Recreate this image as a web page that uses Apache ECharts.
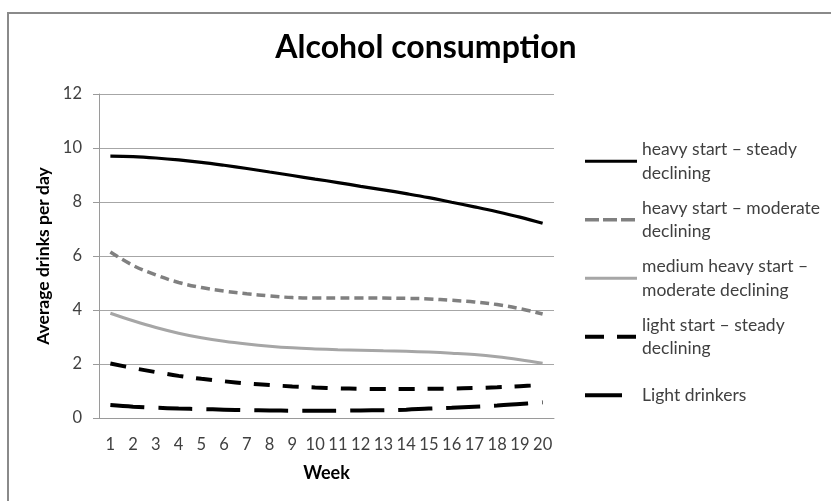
<!DOCTYPE html>
<html>
<head>
<meta charset="utf-8">
<script src="https://cdn.jsdelivr.net/npm/echarts@6/dist/echarts.min.js"></script>
<style>
html,body{margin:0;padding:0;background:#fff;}
#chart{width:831px;height:501px;}
</style>
</head>
<body>
<div id="chart"></div>
<script>
var weeks = ['1','2','3','4','5','6','7','8','9','10','11','12','13','14','15','16','17','18','19','20'];
var seriesNames = [
  'heavy start – steady declining',
  'heavy start – moderate declining',
  'medium heavy start – moderate declining',
  'light start – steady declining',
  'Light drinkers'
];
var legendLabels = [
  'heavy start – steady\ndeclining',
  'heavy start – moderate\ndeclining',
  'medium heavy start –\nmoderate declining',
  'light start – steady\ndeclining',
  'Light drinkers'
];
var heavySteady = [9.70,9.68,9.63,9.56,9.47,9.36,9.24,9.11,8.98,8.85,8.72,8.58,8.45,8.31,8.16,7.99,7.82,7.64,7.44,7.21];
var heavyModerate = [6.15,5.65,5.30,5.02,4.83,4.70,4.60,4.52,4.46,4.44,4.44,4.44,4.44,4.43,4.41,4.36,4.30,4.20,4.05,3.85];
var mediumModerate = [3.88,3.60,3.35,3.14,2.97,2.84,2.74,2.66,2.60,2.56,2.53,2.51,2.49,2.47,2.44,2.40,2.35,2.27,2.16,2.03];
var lightSteady = [2.02,1.85,1.70,1.56,1.45,1.36,1.28,1.22,1.17,1.13,1.10,1.08,1.07,1.07,1.08,1.09,1.11,1.14,1.18,1.22];
var lightDrinkers = [0.48,0.42,0.38,0.35,0.33,0.31,0.29,0.28,0.27,0.27,0.27,0.28,0.29,0.31,0.35,0.38,0.42,0.46,0.52,0.58];
var yTicks = [0,2,4,6,8,10,12];

var font = 'Lato, "Open Sans", sans-serif';
var LH = 23.5;
var dataArr = [heavySteady, heavyModerate, mediumModerate, lightSteady, lightDrinkers];
var styles = [
  {color:'#000000', width:3.2, type:'solid', legendType:'solid'},
  {color:'#808080', width:3.5, type:[9,5], legendType:[14,4]},
  {color:'#a6a6a6', width:3, type:'solid', legendType:'solid'},
  {color:'#000000', width:4, type:[16,13], legendType:[19,13]},
  {color:'#000000', width:4, type:[34,14], legendType:[37,30]}
];

var chart = echarts.init(document.getElementById('chart'), null, {renderer:'canvas'});
var option = {
  animation:false,
  backgroundColor:'#ffffff',
  title:{
    text:'Alcohol consumption',
    left:421, top:27, textAlign:'center',
    textStyle:{fontFamily:font, fontSize:32, fontWeight:'bold', color:'#000'}
  },
  grid:{left:99, right:277, top:94, bottom:83, containLabel:false},
  legend:{
    orient:'vertical', left:583, top:126, padding:0,
    itemWidth:52, itemHeight:14, itemGap:-12,
    itemStyle:{opacity:0},
    data: seriesNames.map(function(n,i){
      var single = legendLabels[i].indexOf('\n') < 0;
      return {
        name:n,
        itemStyle:{opacity:0},
        lineStyle:{color:styles[i].color, width:styles[i].width, type:styles[i].legendType},
        textStyle:{padding: single ? [LH,0,LH,0] : [LH,0,0,0]}
      };
    }),
    formatter:function(name){ return legendLabels[seriesNames.indexOf(name)]; },
    textStyle:{fontFamily:font, fontSize:17.5, color:'#404040', lineHeight:LH}
  },
  xAxis:{
    type:'category', data:weeks, boundaryGap:true,
    name:'Week', nameLocation:'middle', nameGap:46,
    nameTextStyle:{fontFamily:font, fontSize:18, fontWeight:'bold', color:'#000'},
    axisLine:{lineStyle:{color:'#9a9a9a', width:1}},
    axisTick:{show:false},
    axisLabel:{fontFamily:font, fontSize:16.5, color:'#404040', margin:18, interval:0}
  },
  yAxis:{
    type:'value', min:yTicks[0], max:yTicks[yTicks.length-1], interval:2,
    name:'Average drinks per day', nameLocation:'middle', nameGap:42,
    nameTextStyle:{fontFamily:font, fontSize:17.5, fontWeight:'bold', color:'#000'},
    axisLine:{show:true, lineStyle:{color:'#9a9a9a', width:1}},
    axisTick:{show:true, length:6, lineStyle:{color:'#9a9a9a'}},
    splitLine:{lineStyle:{color:'#a6a6a6', width:1}},
    axisLabel:{fontFamily:font, fontSize:16.5, color:'#404040', margin:17}
  },
  graphic:[{
    type:'rect', silent:true, z:-1,
    shape:{x:8, y:13, width:840, height:520},
    style:{fill:'none', stroke:'#8a8a8a', lineWidth:2}
  }],
  series: seriesNames.map(function(n,i){
    return {
      name:n, type:'line', data:dataArr[i], smooth:0.4, symbol:'none',
      lineStyle:{color:styles[i].color, width:styles[i].width, type:styles[i].type, cap:'butt'},
      itemStyle:{color:styles[i].color}
    };
  })
};
chart.setOption(option);
</script>
</body>
</html>
